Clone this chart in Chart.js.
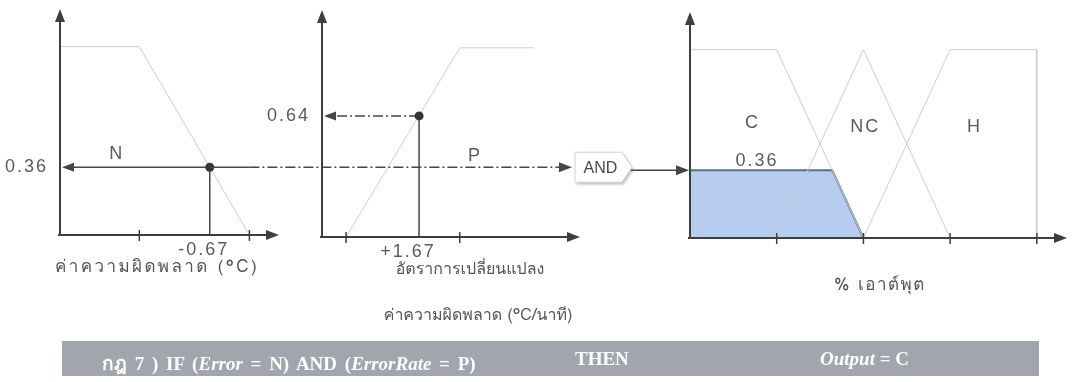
<!DOCTYPE html>
<html>
<head>
<meta charset="utf-8">
<script src="https://cdn.jsdelivr.net/npm/chart.js@4.4.1/dist/chart.umd.min.js"></script>
<style>
  body { margin: 0; background: #fff; width: 1073px; height: 382px; overflow: hidden; position: relative;
         font-family: "Loma", "Waree", "Garuda", "Noto Sans Thai", "Noto Sans", "DejaVu Sans", sans-serif; }
  .plot { position: absolute; top: 0; }
  #overlay { position: absolute; left: 0; top: 0; z-index: 5; }
  .title { position: absolute; color: #555; font-size: 16px; white-space: nowrap; transform: translate(-50%, -50%); }
  .rule { position: absolute; left: 62px; top: 341px; width: 977px; height: 35px; background: #a0a5ae;
          color: #fff; font-family: "Liberation Serif", "Norasi", "Kinnari", "Times New Roman", serif;
          font-weight: bold; font-size: 19px; }
  .rule span { position: absolute; top: 7px; white-space: nowrap; }
</style>
</head>
<body>
<canvas id="errChart" class="plot" width="290" height="300" style="left:0px"></canvas>
<canvas id="rateChart" class="plot" width="372" height="300" style="left:228px"></canvas>
<canvas id="outChart" class="plot" width="413" height="300" style="left:660px"></canvas>
<canvas id="overlay" width="1073" height="382"></canvas>

<div class="title" style="left:157px; top:265px; font-size:17px; letter-spacing:2.4px">ค่าความผิดพลาด (°C)</div>
<div class="title" style="left:470px; top:268px">อัตราการเปลี่ยนแปลง</div>
<div class="title" style="left:478px; top:314px">ค่าความผิดพลาด (°C/นาที)</div>
<div class="title" style="left:880px; top:283px; font-size:17px; letter-spacing:1.5px">% เอาต์พุต</div>

<div class="rule">
  <span style="left:40px; word-spacing:3px">กฎ 7 ) IF (<i>Error</i> = N) AND (<i>ErrorRate</i> = P)</span>
  <span style="left:513px">THEN</span>
  <span style="left:758px"><i>Output</i> = C</span>
</div>

<script>
// error (°C) – membership "N"
const errX = [-3.2, -1.86, 0];
const errN = [1, 1, 0];
const errTicks = [-1.86, 0];
const errInput = -0.67;
const errMu = 0.36;

// error rate (°C/min) – membership "P"
const rateX = [0, 2.6, 4.3];
const rateP = [0, 1, 1];
const rateTicks = [0, 2.6];
const rateInput = 1.67;
const rateMu = 0.64;

// output % – memberships C, NC, H
const outXC = [0, 25, 50];
const outC = [1, 1, 0];
const outXNC = [25, 50, 75];
const outNC = [0, 1, 0];
const outXH = [50, 75, 100, 100];
const outH = [0, 1, 1, 0];
const outTicks = [25, 50, 75, 100];

// C clipped at the rule strength (min of 0.36 and 0.64)
const firedX = [0, 0, 41, 50];
const firedMu = [0, 0.36, 0.36, 0];

const AXIS = '#3e3e3e';
const FAINT = '#cdcdcd';
const INK = '#454545';
const LABEL = '#5a5a5a';
const NUM_FONT = '18px "Liberation Sans", Arial, sans-serif';
const DASH_DOT = [10, 3, 2, 3];

function arrowHead(ctx, x, y, dir) {
  ctx.beginPath();
  if (dir === 'up') { ctx.moveTo(x, y); ctx.lineTo(x - 5, y + 13); ctx.lineTo(x + 5, y + 13); }
  else if (dir === 'right') { ctx.moveTo(x, y); ctx.lineTo(x - 13, y - 5); ctx.lineTo(x - 13, y + 5); }
  else { ctx.moveTo(x, y); ctx.lineTo(x + 12, y - 4.5); ctx.lineTo(x + 12, y + 4.5); }
  ctx.closePath();
  ctx.fill();
}

function textOut(ctx, str, x, y, align) {
  ctx.font = NUM_FONT;
  ctx.letterSpacing = '2px';
  ctx.fillStyle = LABEL;
  ctx.textAlign = align || 'center';
  ctx.textBaseline = 'middle';
  ctx.fillText(str, x, y);
}

// axes with arrowheads, tick marks and set labels
const fuzzyAxes = {
  id: 'fuzzyAxes',
  afterDatasetsDraw(chart, args, opts) {
    const { ctx, chartArea: a, scales: { x, y } } = chart;
    const y0 = y.getPixelForValue(0);
    ctx.save();
    ctx.strokeStyle = AXIS;
    ctx.fillStyle = AXIS;
    ctx.lineWidth = 2;
    ctx.beginPath();
    ctx.moveTo(a.left, a.top + 10);
    ctx.lineTo(a.left, y0);
    ctx.moveTo(a.left - 2, y0);
    ctx.lineTo(a.right - 10, y0);
    ctx.stroke();
    arrowHead(ctx, a.left, a.top, 'up');
    arrowHead(ctx, a.right, y0, 'right');
    ctx.lineWidth = 1.5;
    opts.ticks.forEach(v => {
      const px = x.getPixelForValue(v);
      ctx.beginPath();
      ctx.moveTo(px, y0 - 5);
      ctx.lineTo(px, y0 + 6);
      ctx.stroke();
    });
    (opts.labels || []).forEach(l => textOut(ctx, l.text, x.getPixelForValue(l.x), y.getPixelForValue(l.y)));
    ctx.restore();
  }
};

// reading lines: crisp input down to the axis, membership across to the y axis
const guides = {
  id: 'guides',
  beforeDatasetsDraw(chart, args, opts) {
    if (opts.input === undefined) return;
    const { ctx, chartArea: a, scales: { x, y } } = chart;
    const px = x.getPixelForValue(opts.input);
    const py = y.getPixelForValue(opts.mu);
    const y0 = y.getPixelForValue(0);
    ctx.save();
    ctx.strokeStyle = INK;
    ctx.fillStyle = INK;
    ctx.lineWidth = 1.5;
    ctx.beginPath();
    ctx.moveTo(px, py);
    ctx.lineTo(px, y0);
    ctx.stroke();
    ctx.setLineDash(opts.dashed ? DASH_DOT : []);
    ctx.beginPath();
    ctx.moveTo(px, py);
    ctx.lineTo(a.left + 12, py);
    ctx.stroke();
    ctx.setLineDash([]);
    arrowHead(ctx, a.left + 2, py, 'left');
    textOut(ctx, opts.muLabel, a.left - 12, py, 'right');
    textOut(ctx, opts.inputLabel, px + opts.inputShift, y0 + 15);
    ctx.restore();
  }
};

function mf(xs, ys, extra) {
  return Object.assign({
    data: xs.map((v, i) => ({ x: v, y: ys[i] })),
    borderColor: FAINT, borderWidth: 1, pointRadius: 0, fill: false, tension: 0, order: 1
  }, extra || {});
}

function dot(xv, yv) {
  return { data: [{ x: xv, y: yv }], showLine: false, pointRadius: 4.5,
           pointBackgroundColor: '#363636', pointBorderWidth: 0, order: 0 };
}

function makeChart(id, cfg) {
  return new Chart(document.getElementById(id), {
    type: 'line',
    data: { datasets: cfg.datasets },
    options: {
      responsive: false,
      animation: false,
      events: [],
      layout: { padding: cfg.padding },
      scales: {
        x: { type: 'linear', min: cfg.xMin, max: cfg.xMax, display: false },
        y: { type: 'linear', min: 0, max: 1.2, display: false }
      },
      plugins: {
        legend: { display: false },
        tooltip: { enabled: false },
        fuzzyAxes: { ticks: cfg.ticks, labels: cfg.labels },
        guides: cfg.guides || {}
      }
    },
    plugins: [fuzzyAxes, guides]
  });
}

const errChart = makeChart('errChart', {
  xMin: -3.2, xMax: 0.5,
  padding: { left: 60, right: 11, top: 9, bottom: 65 },
  ticks: errTicks,
  labels: [{ text: 'N', x: -2.24, y: 0.43 }],
  guides: { input: errInput, mu: errMu, dashed: false, muLabel: '0.36', inputLabel: '-0.67', inputShift: -6 },
  datasets: [mf(errX, errN), dot(errInput, errMu)]
});

const rateChart = makeChart('rateChart', {
  xMin: -0.55, xMax: 5.35,
  padding: { left: 94, right: 20, top: 10, bottom: 63 },
  ticks: rateTicks,
  labels: [{ text: 'P', x: 2.95, y: 0.43 }],
  guides: { input: rateInput, mu: rateMu, dashed: true, muLabel: '0.64', inputLabel: '+1.67', inputShift: -11 },
  datasets: [mf(rateX, rateP), dot(rateInput, rateMu)]
});

const outChart = makeChart('outChart', {
  xMin: 0, xMax: 108.7,
  padding: { left: 30, right: 6, top: 12, bottom: 62 },
  ticks: outTicks,
  labels: [
    { text: 'C', x: 18, y: 0.61 },
    { text: 'NC', x: 50.5, y: 0.59 },
    { text: 'H', x: 82, y: 0.59 },
    { text: '0.36', x: 19.3, y: 0.41 }
  ],
  datasets: [
    mf(outXC, outC), mf(outXNC, outNC), mf(outXH, outH),
    mf(firedX, firedMu, { borderColor: '#5d6e8c', borderWidth: 2, fill: 'origin',
                          backgroundColor: 'rgba(170,196,236,0.85)', order: 2 })
  ]
});

// the min-operator path: Error membership -> AND -> clipped output set
function drawOverlay() {
  const ctx = document.getElementById('overlay').getContext('2d');
  const eLeft = errChart.canvas.offsetLeft;
  const oLeft = outChart.canvas.offsetLeft;
  const ey = errChart.scales.y.getPixelForValue(errMu);
  const ex = eLeft + errChart.scales.x.getPixelForValue(errInput);
  const footX = eLeft + errChart.scales.x.getPixelForValue(0);
  const oy = outChart.scales.y.getPixelForValue(errMu);
  const axisX = oLeft + outChart.chartArea.left;

  const boxL = 575, boxR = 622, tip = 632, boxT = ey - 15, boxB = ey + 15;

  ctx.save();
  ctx.strokeStyle = INK;
  ctx.fillStyle = INK;
  ctx.lineWidth = 1.5;
  ctx.beginPath();
  ctx.moveTo(ex, ey);
  ctx.lineTo(footX, ey);
  ctx.stroke();
  ctx.setLineDash(DASH_DOT);
  ctx.beginPath();
  ctx.moveTo(footX, ey);
  ctx.lineTo(boxL - 14, ey);
  ctx.stroke();
  ctx.setLineDash([]);
  arrowHead(ctx, boxL - 3, ey, 'right');

  // AND tag
  ctx.save();
  ctx.shadowColor = 'rgba(0,0,0,0.28)';
  ctx.shadowBlur = 3;
  ctx.shadowOffsetX = 1.5;
  ctx.shadowOffsetY = 2;
  ctx.beginPath();
  ctx.moveTo(boxL, boxT);
  ctx.lineTo(boxR, boxT);
  ctx.lineTo(tip, ey);
  ctx.lineTo(boxR, boxB);
  ctx.lineTo(boxL, boxB);
  ctx.closePath();
  ctx.fillStyle = '#fff';
  ctx.fill();
  ctx.restore();
  ctx.strokeStyle = '#d2d2d2';
  ctx.lineWidth = 1;
  ctx.stroke();
  ctx.font = '16px "Liberation Sans", Arial, sans-serif';
  ctx.fillStyle = '#4a4a4a';
  ctx.textAlign = 'center';
  ctx.textBaseline = 'middle';
  ctx.fillText('AND', (boxL + boxR) / 2 + 2, ey + 1);

  ctx.strokeStyle = INK;
  ctx.fillStyle = INK;
  ctx.lineWidth = 1.5;
  ctx.beginPath();
  ctx.moveTo(tip - 1, oy);
  ctx.lineTo(axisX - 12, oy);
  ctx.stroke();
  arrowHead(ctx, axisX - 1, oy, 'right');
  ctx.restore();
}

drawOverlay();
</script>
</body>
</html>
